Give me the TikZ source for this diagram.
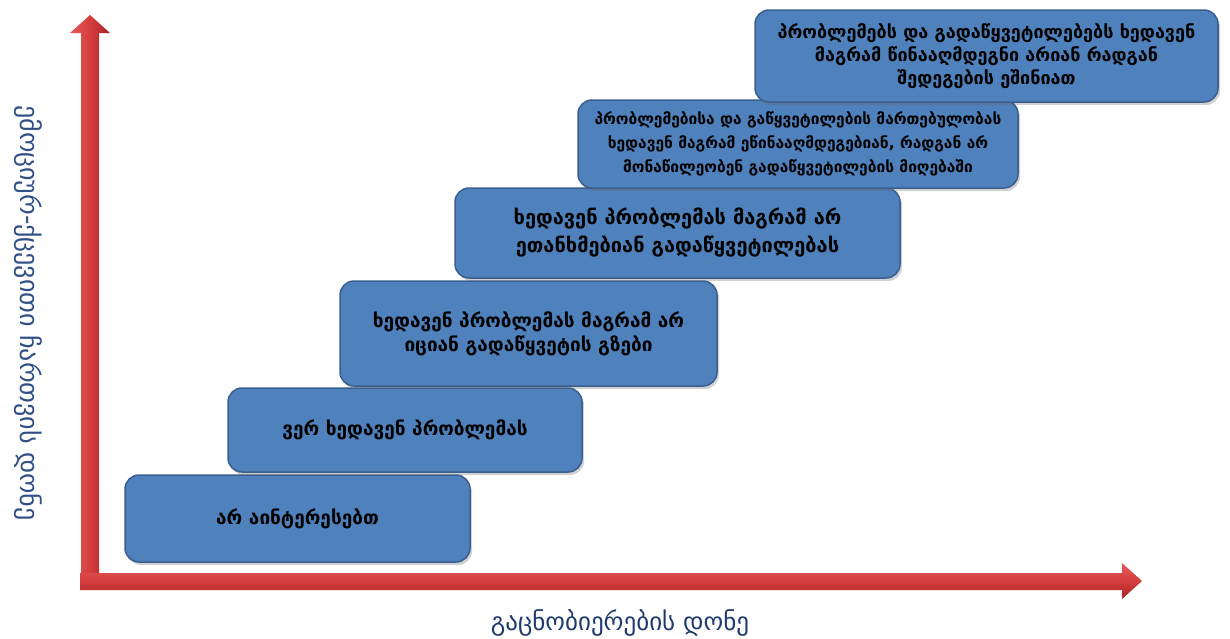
\documentclass[tikz,border=0pt]{standalone}
\usepackage{fontspec}
\setmainfont{DejaVu Sans}
\usetikzlibrary{shadows}
\definecolor{boxfill}{HTML}{4F81BD}
\definecolor{boxline}{HTML}{3A5F8F}
\definecolor{arrowlight}{HTML}{E65A5A}
\definecolor{arrowmid}{HTML}{D43D3D}
\definecolor{arrowdark}{HTML}{A82424}
\definecolor{labelblue}{HTML}{1F3A6E}
\definecolor{ylabelblue}{HTML}{2F4F85}
\begin{document}
\begin{tikzpicture}[x=1pt,y=-1pt,
  stepbox/.style={draw=boxline, line width=1.5pt, fill=boxfill, rounded corners=14pt,
    align=center, inner sep=0pt, text=black,
    font=\bfseries\fontsize{19}{24}\selectfont,
    drop shadow={shadow xshift=2pt, shadow yshift=-3pt, opacity=0.3, fill=black!60}},
  axislabel/.style={text=labelblue, font=\fontsize{25}{28}\selectfont, inner sep=0pt},
]
\useasboundingbox (0,0) rectangle (1230,638);

% axes
\coordinate (origin) at (90,581);
\shade[left color=arrowlight, right color=arrowdark, middle color=arrowmid]
  (81,588) -- (81,33) -- (70,33) -- (90,15) -- (110,33) -- (99,33) -- (99,588) -- cycle;
\shade[top color=arrowlight, bottom color=arrowdark, middle color=arrowmid]
  (80,573) -- (1122,573) -- (1122,563) -- (1142,581) -- (1122,599) -- (1122,590) -- (80,590) -- cycle;

% steps
\node[stepbox, minimum width=345pt, minimum height=87pt] (b1) at (297.5,518.5)
  {არ აინტერესებთ};
\node[stepbox, minimum width=354pt, minimum height=84pt] (b2) at (405,430)
  {ვერ ხედავენ პრობლემას};
\node[stepbox, minimum width=377pt, minimum height=105pt] (b3) at (528.5,333.5)
  {ხედავენ პრობლემას მაგრამ არ\\იციან გადაწყვეტის გზები};
\node[stepbox, minimum width=445pt, minimum height=90pt, font=\bfseries\fontsize{20}{28}\selectfont] (b4) at (677.5,233)
  {ხედავენ პრობლემას მაგრამ არ\\ეთანხმებიან გადაწყვეტილებას};
\node[stepbox, minimum width=440pt, minimum height=88pt, font=\bfseries\fontsize{15.5}{24}\selectfont] (b5) at (798,144)
  {პრობლემებისა და გაწყვეტილების მართებულობას\\ხედავენ მაგრამ ეწინააღმდეგებიან, რადგან არ\\მონაწილეობენ გადაწყვეტილების მიღებაში};
\node[stepbox, minimum width=463pt, minimum height=92pt, font=\bfseries\fontsize{18}{23}\selectfont] (b6) at (986.5,56)
  {პრობლემებს და გადაწყვეტილებებს ხედავენ\\მაგრამ წინააღმდეგნი არიან რადგან\\შედეგების ეშინიათ};

% axis labels
\node[axislabel] (xlabel) at (620,623) {გაცნობიერების დონე};
\node[axislabel, text=ylabelblue, font=\fontsize{26}{28}\selectfont, rotate=-90] (ylabel) at (28,313) {ემოციურ-ქცევითი ჩართვის დონე};
\end{tikzpicture}
\end{document}
